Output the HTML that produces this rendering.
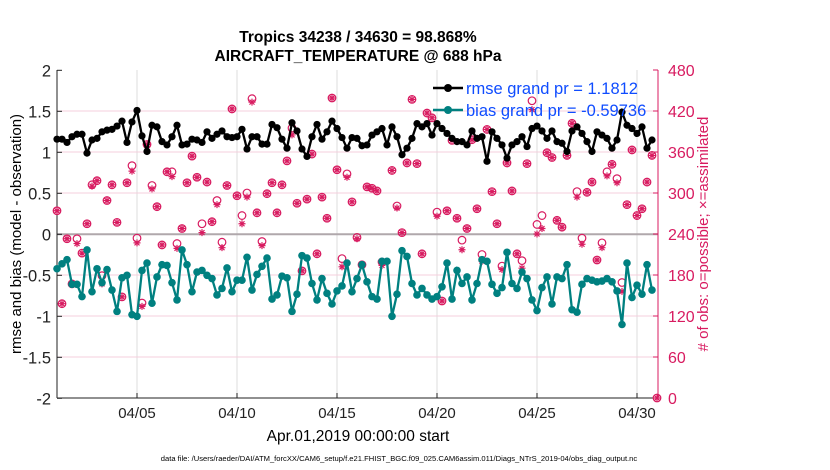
<!DOCTYPE html>
<html><head><meta charset="utf-8"><style>
html,body{margin:0;padding:0;background:#fff;}
svg{display:block;font-family:"Liberation Sans",Arial,sans-serif;}
</style></head><body>
<svg id="chart" width="830" height="470" viewBox="0 0 830 470" xmlns="http://www.w3.org/2000/svg">
<g id="grid"></g>
<g id="axes"></g>
<g id="series"></g>
<text x="358" y="42" text-anchor="middle" font-size="15.5" font-weight="bold">Tropics 34238 / 34630 = 98.868%</text>
<text x="358" y="61" text-anchor="middle" font-size="15.5" font-weight="bold">AIRCRAFT_TEMPERATURE @ 688 hPa</text>
<text transform="translate(21,234) rotate(-90)" text-anchor="middle" font-size="15">rmse and bias (model - observation)</text>
<text transform="translate(708,234) rotate(-90)" text-anchor="middle" font-size="15" fill="#d81b60">#  of obs: o=possible; ×=assimilated</text>
<text x="358" y="441" text-anchor="middle" font-size="15.5">Apr.01,2019 00:00:00 start</text>
<text x="399" y="461" text-anchor="middle" font-size="7.6">data file: /Users/raeder/DAI/ATM_forcXX/CAM6_setup/f.e21.FHIST_BGC.f09_025.CAM6assim.011/Diags_NTrS_2019-04/obs_diag_output.nc</text>
<g id="legend">
<g>
<line x1="433" y1="88" x2="463" y2="88" stroke="#000" stroke-width="2.5"/>
<circle cx="448" cy="88" r="4" fill="#000"/>
<text x="466" y="94" font-size="16.5" fill="#0f4cff">rmse grand pr = 1.1812</text></g>
<g>
<line x1="433" y1="110" x2="463" y2="110" stroke="#008080" stroke-width="2.5"/>
<circle cx="448" cy="110" r="4" fill="#008080"/>
<text x="466" y="116" font-size="16.5" fill="#0f4cff">bias grand pr = -0.59736</text></g>
</g>
</svg>
<script>
const rmse=[1.16,1.16,1.12,1.19,1.22,1.22,0.99,1.15,1.17,1.25,1.27,1.28,1.32,1.38,1.12,1.37,1.51,1.20,1.01,1.33,1.31,1.13,1.09,1.19,1.33,1.09,1.10,1.16,1.15,1.12,1.25,1.17,1.22,1.26,1.19,1.18,1.19,1.28,1.04,1.19,1.19,1.10,1.10,1.34,1.30,1.16,1.05,1.36,1.26,1.04,0.95,1.19,1.34,1.16,1.25,1.38,1.29,1.18,1.05,1.18,1.17,1.08,
1.09,1.21,1.25,1.29,1.09,1.31,1.19,0.97,1.05,1.17,1.35,1.31,1.35,1.21,1.35,1.29,1.23,1.17,1.13,1.13,1.09,1.26,1.17,1.19,0.89,1.25,1.17,1.09,0.93,1.09,1.13,1.19,1.07,1.29,1.32,1.26,1.17,1.26,1.13,1.11,1.01,1.26,1.31,1.23,1.13,1.01,1.25,1.21,1.17,1.05,1.15,1.49,1.33,1.29,1.23,1.31,1.05,1.15];
const bias=[-0.42,-0.36,-0.31,-0.61,-0.61,-0.76,-0.19,-0.70,-0.42,-0.59,-0.43,-0.68,-0.94,-0.53,-0.50,-0.98,-1.00,-0.44,-0.35,-0.84,-0.52,-0.37,-0.38,-0.59,-0.80,-0.19,-0.37,-0.70,-0.46,-0.44,-0.50,-0.54,-0.74,-0.66,-0.41,-0.70,-0.56,-0.56,-0.28,-0.68,-0.49,-0.39,-0.29,-0.79,-0.74,-0.51,-0.53,-0.94,-0.73,-0.26,-0.29,-0.60,-0.80,-0.54,-0.72,-0.85,-0.69,-0.63,-0.35,-0.70,-0.54,-0.37,
-0.58,-0.76,-0.79,-0.33,-0.33,-1.00,-0.73,-0.20,-0.27,-0.60,-0.74,-0.66,-0.74,-0.79,-0.76,-0.64,-0.35,-0.79,-0.44,-0.60,-0.52,-0.80,-0.60,-0.31,-0.33,-0.61,-0.72,-0.65,-0.22,-0.60,-0.66,-0.46,-0.54,-0.80,-0.93,-0.65,-0.52,-0.85,-0.52,-0.54,-0.37,-0.92,-0.95,-0.61,-0.54,-0.56,-0.58,-0.57,-0.54,-0.58,-0.69,-1.10,-0.35,-0.77,-0.62,-0.73,-0.37,-0.68];
const possible=[274,138,233,167,233,212,255,312,318,179,289,312,257,148,315,340,234,139,371,311,280,224,331,331,226,248,315,354,323,255,316,258,289,228,311,423,296,267,300,438,271,229,299,315,271,312,347,395,285,186,291,357,211,294,263,439,334,204,328,287,235,195,
309,307,303,199,null,333,281,242,344,437,343,211,417,410,272,142,274,377,263,231,248,378,277,210,393,302,255,193,344,303,211,201,343,435,254,267,359,352,260,250,355,402,302,234,301,316,202,227,331,342,321,169,283,363,267,277,316,355,0];
const assimilated=[274,138,233,167,226,212,255,310,318,167,289,312,257,148,315,332,227,134,371,306,280,224,331,324,219,248,315,354,323,242,316,258,283,220,311,423,296,255,294,433,271,223,299,315,271,312,347,385,285,186,291,357,211,294,263,439,334,192,323,287,233,194,
309,307,303,194,null,333,278,242,344,437,343,211,417,410,266,142,274,377,263,217,248,378,277,200,393,302,255,188,344,303,211,190,343,422,240,248,359,352,260,250,355,402,294,225,301,316,202,220,325,342,315,156,283,363,267,277,316,355,0];
const leftTicks=[2,1.5,1,0.5,0,-0.5,-1,-1.5,-2];
const rightTicks=[480,420,360,300,240,180,120,60,0];
const xTickDays=[4,9,14,19,24,29];
const xTickLabels=["04/05","04/10","04/15","04/20","04/25","04/30"];
const stepsPerDay=4;

const NS="http://www.w3.org/2000/svg";
const L=57,R=658,T=70,B=398;
function xDay(d){return L+20*d;}
function yL(v){return 234.3-82*v;}
function yR(c){return B-(c/480)*(B-T);}
function mk(tag,attrs,parent){const e=document.createElementNS(NS,tag);for(const k in attrs)e.setAttribute(k,attrs[k]);parent.appendChild(e);return e;}
const grid=document.getElementById('grid'),axes=document.getElementById('axes'),ser=document.getElementById('series');

xTickDays.forEach((d,i)=>{
  const g=mk('line',{x1:xDay(d),x2:xDay(d),y1:T,y2:B,stroke:'#dcdcdc','stroke-width':1},grid);
  
  
  const t=mk('line',{x1:xDay(d),x2:xDay(d),y1:B,y2:B-5,stroke:'#222'},axes);
  
  
  const lb=mk('text',{x:xDay(d),y:418,'text-anchor':'middle','font-size':15,fill:'#222'},axes);
  lb.textContent=xTickLabels[i];
  
  
});
rightTicks.forEach(c=>{
  if(c!==0&&c!==480){
    const g=mk('line',{x1:L,x2:R,y1:yR(c),y2:yR(c),stroke:'#f5cfdc','stroke-width':1},grid);
    
    
  }
  const t=mk('line',{x1:R,x2:R-5,y1:yR(c),y2:yR(c),stroke:'#d81b60'},axes);
  
  
  const lb=mk('text',{x:R+10,y:yR(c)+6,'font-size':16,fill:'#d81b60'},axes);
  lb.textContent=String(c);
  
  
});
const z=mk('line',{x1:L,x2:R,y1:yL(0),y2:yL(0),stroke:'#b0a8ac','stroke-width':2},grid);


leftTicks.forEach(v=>{
  const t=mk('line',{x1:L,x2:L+5,y1:yL(v),y2:yL(v),stroke:'#222'},axes);
  
  
  const lb=mk('text',{x:L-6,y:yL(v)+6,'text-anchor':'end','font-size':16.5,fill:'#222'},axes);
  lb.textContent=String(v);
  
  
});
const ax1=mk('line',{x1:L,x2:L,y1:T,y2:B,stroke:'#222'},axes);


const ax2=mk('line',{x1:L,x2:R,y1:B,y2:B,stroke:'#222'},axes);


const ax3=mk('line',{x1:R,x2:R,y1:T,y2:B,stroke:'#d81b60'},axes);



possible.forEach((c,i)=>{
  if(c===null)return;
  const x=xDay(i/stepsPerDay);
  const cc=mk('circle',{cx:x,cy:yR(c),r:3.8,fill:'none',stroke:'#d81b60','stroke-width':1.2},ser);
  
  
});
assimilated.forEach((c,i)=>{
  if(c===null)return;
  const x=xDay(i/stepsPerDay),y=yR(c);
  const p=mk('path',{d:`M${x-3.5},${y}H${x+3.5}M${x},${y-3.5}V${y+3.5}M${x-2.5},${y-2.5}L${x+2.5},${y+2.5}M${x-2.5},${y+2.5}L${x+2.5},${y-2.5}`,stroke:'#d81b60','stroke-width':1.2},ser);
  
  
});
function drawLine(arr,color,name,r){
  const pts=arr.map((v,i)=>xDay(i/stepsPerDay)+','+yL(v)).join(' ');
  const pl=mk('polyline',{points:pts,fill:'none',stroke:color,'stroke-width':2.3},ser);
  
  
  arr.forEach((v,i)=>{
    const c=mk('circle',{cx:xDay(i/stepsPerDay),cy:yL(v),r:r,fill:color},ser);
    
    
  });
}
drawLine(bias,'#008080','bias',3.8);
drawLine(rmse,'#000000','rmse',3.6);
</script>
</body></html>
